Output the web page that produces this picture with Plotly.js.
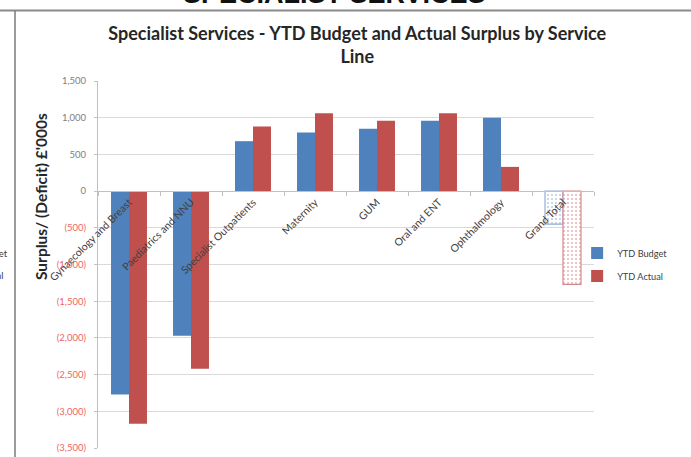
<!DOCTYPE html>
<html>
<head>
<meta charset="utf-8">
<script src="https://cdn.plot.ly/plotly-3.0.1.min.js"></script>
<style>html,body{margin:0;padding:0;background:#fff;}#chart{width:691px;height:457px;}</style>
</head>
<body>
<div id="chart"></div>
<script>
// ---- data ----
var categories = ["Gynaecology and Breast", "Paediatrics and NNU", "Specialist Outpatients", "Maternity", "GUM", "Oral and ENT", "Ophthalmology", "Grand Total"];
var ytdBudget = [-2770, -1970, 680, 800, 850, 960, 1000, -450];
var ytdActual = [-3170, -2420, 880, 1060, 960, 1060, 330, -1270];
var seriesNames = ["YTD Budget", "YTD Actual"];
var yTickValues = [1500, 1000, 500, 0, -500, -1000, -1500, -2000, -2500, -3000, -3500];
var yTickLabels = ["1,500", "1,000", "500", "0", "(500)", "(1,000)", "(1,500)", "(2,000)", "(2,500)", "(3,000)", "(3,500)"];
var chartTitle = "Specialist Services - YTD Budget and Actual Surplus by Service<br>Line";
var yTitle = "Surplus/ (Deficit) £'000s";
var headerText = "SPECIALIST SERVICES";

// ---- styling ----
var FONT = "Lato, 'Open Sans', sans-serif";
var blue = "#4F81BD", red = "#C0504D";
var n = categories.length;
function patternShapes() { return categories.map(function (c, i) { return i === n - 1 ? "." : ""; }); }
function lineWidths() { return categories.map(function (c, i) { return i === n - 1 ? 1.2 : 0; }); }
function px2x(p) { return (p - 98) / 496; }
function py2y(p) { return (448 - p) / 367; }

var styledTicks = yTickValues.map(function (v, i) {
  return v < 0 ? '<span style="color:#f26464">' + yTickLabels[i] + '</span>' : yTickLabels[i];
});

var traces = [
  {
    type: "bar", name: seriesNames[0], x: categories, y: ytdBudget, legendgroup: "b",
    marker: {
      color: blue,
      line: { color: "#93aed6", width: lineWidths() },
      pattern: { shape: patternShapes(), fillmode: "replace", fgcolor: "#b9cbe6", bgcolor: "#ffffff", size: 4, solidity: 0.2 }
    },
    hoverinfo: "x+y"
  },
  {
    type: "bar", name: seriesNames[1], x: categories, y: ytdActual, legendgroup: "a",
    marker: {
      color: red,
      line: { color: "#d48a88", width: lineWidths() },
      pattern: { shape: patternShapes(), fillmode: "replace", fgcolor: "#e6b5b4", bgcolor: "#ffffff", size: 4, solidity: 0.2 }
    },
    hoverinfo: "x+y"
  }
];

var layout = {
  width: 691, height: 457,
  margin: { l: 98, r: 97, t: 81, b: 9, autoexpand: false },
  paper_bgcolor: "#ffffff", plot_bgcolor: "#ffffff",
  font: { family: FONT, color: "#404040" },
  barmode: "group", bargap: 0.42, bargroupgap: 0,
  showlegend: true,
  legend: { x: 0.966, xanchor: "left", y: 0.5, yanchor: "middle", font: { size: 9.2, color: "#404040", family: FONT },
    bgcolor: "rgba(0,0,0,0)", tracegroupgap: 4, traceorder: "grouped" },
  title: {
    text: chartTitle, x: 0.517, xref: "container", xanchor: "center",
    y: 1 - 40 / 457, yref: "container", yanchor: "top",
    font: { family: FONT, size: 18, color: "#262626", weight: "bold" }
  },
  xaxis: {
    type: "category", anchor: "free", position: 0.7,
    showline: true, linecolor: "#c0c0c0", linewidth: 1,
    ticks: "outside", tickson: "boundaries", ticklen: 4, tickcolor: "#c0c0c0",
    tickangle: -45, tickfont: { size: 10.5, color: "#404040", family: FONT },
    showgrid: false, zeroline: false, fixedrange: true
  },
  yaxis: {
    range: [-3500, 1500], tickmode: "array", tickvals: yTickValues, ticktext: styledTicks,
    tickfont: { size: 9.5, color: "#808080", family: FONT }, ticklabelstandoff: 6,
    showgrid: true, gridcolor: "#d9d9d9", gridwidth: 1, zeroline: false,
    showline: true, linecolor: "#c0c0c0", ticks: "outside", ticklen: 3, tickcolor: "#c0c0c0",
    fixedrange: true
  },
  annotations: [
    { text: "<b>" + yTitle + "</b>", xref: "paper", yref: "paper", x: px2x(41), y: py2y(197), textangle: -90, showarrow: false,
      font: { family: FONT, size: 15.5, color: "#262626" }, xanchor: "center", yanchor: "middle" },
    { text: "<b>" + headerText + "</b>", xref: "paper", yref: "paper", x: px2x(334), y: py2y(11), xanchor: "center", yanchor: "bottom", showarrow: false,
      font: { family: "'Liberation Sans', Arial, sans-serif", size: 27, color: "#111111" } },
    { text: "YTD Budget", xref: "paper", yref: "paper", x: px2x(10), y: py2y(253), xanchor: "right", yanchor: "middle", showarrow: false,
      font: { family: FONT, size: 9.5, color: "#404040" } },
    { text: "YTD Actual", xref: "paper", yref: "paper", x: px2x(5), y: py2y(275), xanchor: "right", yanchor: "middle", showarrow: false,
      font: { family: FONT, size: 9.5, color: "#404040" } }
  ],
  shapes: [
    { type: "line", xref: "paper", yref: "paper", x0: px2x(0), x1: px2x(691), y0: py2y(10.5), y1: py2y(10.5), line: { color: "#8a8a8a", width: 2 } },
    { type: "line", xref: "paper", yref: "paper", x0: px2x(15), x1: px2x(15), y0: py2y(11), y1: py2y(460), line: { color: "#7a7a7a", width: 1.5 } }
  ]
};

Plotly.newPlot("chart", traces, layout, { displayModeBar: false, staticPlot: true });
</script>
</body>
</html>
